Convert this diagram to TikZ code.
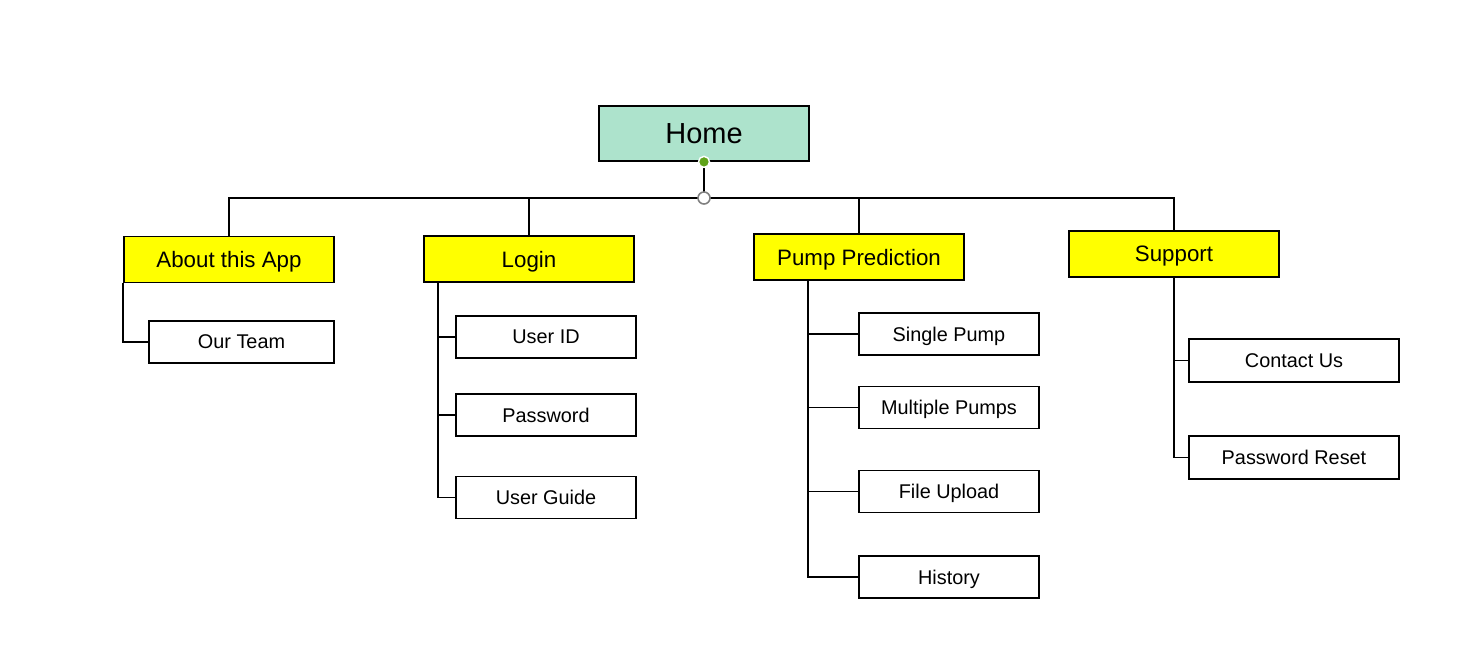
\documentclass[tikz,border=0pt]{standalone}
\usepackage{fontspec}
\setmainfont{Liberation Sans}
\usepackage{tikz}
\usetikzlibrary{positioning}
\definecolor{mmint}{HTML}{ADE3CC}
\definecolor{myellow}{HTML}{FFFF00}
\definecolor{mgreen}{HTML}{5FA319}
\tikzset{homebox/.style = {draw, line width = 1pt, fill = mmint, minimum width = 4.2cm, minimum height = 1.1cm, inner sep = 0, text depth = 0pt, font = \fontsize{16.5}{20}\selectfont}}
\tikzset{topbox/.style = {draw, line width = 1pt, fill = myellow, minimum width = 4.2cm, minimum height = 0.92cm, inner sep = 0, text depth = 0pt, font = \fontsize{12.7}{15}\selectfont}}
\tikzset{leafbox/.style = {draw, line width = 1pt, fill = white, minimum width = 3.6cm, minimum height = 0.84cm, inner sep = 0, text depth = 0pt, font = \fontsize{11.3}{14}\selectfont}}
\tikzset{link/.style = {line width = 1.1pt}}

\begin{document}
\begin{tikzpicture}[x = 0.02cm, y = -0.02cm]
      \useasboundingbox (0, 0) rectangle (1476, 670);
      % top level
      \node [homebox] (home) at (704, 133.5) {Home};
      \node [topbox] (about) at (229, 259.5) {About this App};
      \node [topbox] (login) at (529, 259) {Login};
      \node [topbox] (pump) at (859, 257) {Pump Prediction};
      \node [topbox] (support) at (1174, 254) {Support};
      % leaves
      \node [leafbox, minimum width = 3.7cm] (team) at (241.5, 342) {Our Team};
      \node [leafbox] (userid) at (546, 337) {User ID};
      \node [leafbox] (password) at (546, 415) {Password};
      \node [leafbox] (guide) at (546, 497.5) {User Guide};
      \node [leafbox] (single) at (949, 334) {Single Pump};
      \node [leafbox] (multiple) at (949, 407.5) {Multiple Pumps};
      \node [leafbox] (upload) at (949, 491.5) {File Upload};
      \node [leafbox] (history) at (949, 577) {History};
      \node [leafbox, minimum width = 4.2cm, minimum height = 0.86cm] (contact) at (1294, 360.5) {Contact Us};
      \node [leafbox, minimum width = 4.2cm, minimum height = 0.86cm] (reset) at (1294, 457.5) {Password Reset};
      % bus
      \coordinate (hub) at (704, 198);
      \draw [link] (home.south) -- (hub);
      \draw [link] (about.north) |- (hub) -| (support.north);
      \draw [link] (login.north) -- (login.north |- hub);
      \draw [link] (pump.north) -- (pump.north |- hub);
      % branches
      \draw [link] (about.south west) |- (team.west);
      \path (login.south west) ++(15, 0) coordinate (ltrunk);
      \draw [link] (ltrunk) |- (guide.west);
      \draw [link] (userid.west) -- (userid.west -| ltrunk);
      \draw [link] (password.west) -- (password.west -| ltrunk);
      \path (pump.south west) ++(55, 0) coordinate (ptrunk);
      \draw [link] (ptrunk) |- (history.west);
      \draw [link] (single.west) -- (single.west -| ptrunk);
      \draw [link] (multiple.west) -- (multiple.west -| ptrunk);
      \draw [link] (upload.west) -- (upload.west -| ptrunk);
      \draw [link] (support.south) |- (reset.west);
      \draw [link] (contact.west) -- (contact.west -| support.south);
      % handles
      \filldraw [draw = white, fill = mgreen, line width = 0.8pt] (home.south) circle (5.5);
      \filldraw [draw = gray, fill = white, line width = 0.9pt] (hub) circle (6);
    \end{tikzpicture}
\end{document}
